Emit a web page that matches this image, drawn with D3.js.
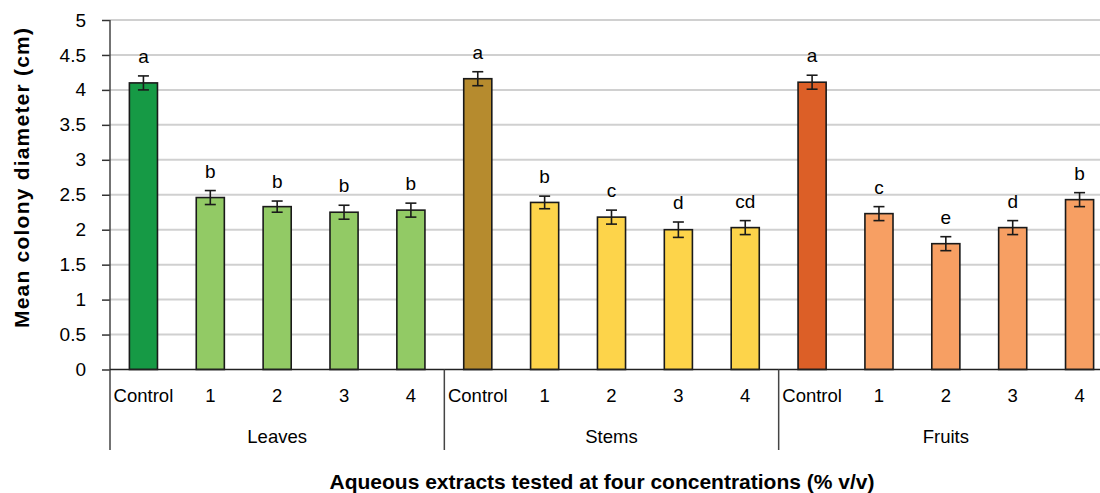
<!DOCTYPE html>
<html>
<head>
<meta charset="utf-8">
<script src="https://cdn.jsdelivr.net/npm/d3@7"></script>
<style>
body { margin: 0; background: #fff; }
text { font-family: "Liberation Sans", Arial, sans-serif; fill: #000; }
</style>
</head>
<body>
<svg id="chart" width="1100" height="493"></svg>
<script>
var groups = ["Leaves", "Stems", "Fruits"];
var levels = ["Control", "1", "2", "3", "4"];
var leaves = [4.10, 2.46, 2.33, 2.25, 2.28];
var stems = [4.16, 2.39, 2.18, 2.00, 2.03];
var fruits = [4.11, 2.23, 1.80, 2.03, 2.43];
var errors = [
    [0.10, 0.10, 0.08, 0.10, 0.10],
    [0.10, 0.09, 0.10, 0.11, 0.10],
    [0.10, 0.10, 0.10, 0.10, 0.10]
];
var letters = [
    ["a", "b", "b", "b", "b"],
    ["a", "b", "c", "d", "cd"],
    ["a", "c", "e", "d", "b"]
];
var yTicks = [0, 0.5, 1, 1.5, 2, 2.5, 3, 3.5, 4, 4.5, 5];
var colors = [
    ["#169a45", "#92ca65"],
    ["#b68b2e", "#fdd44a"],
    ["#dc5f27", "#f79f63"]
];

var series = [leaves, stems, fruits];
var data = [];
groups.forEach(function(g, gi) {
    levels.forEach(function(l, li) {
        data.push({
            key: g + "-" + l, group: g, gi: gi, level: l, li: li,
            value: series[gi][li], err: errors[gi][li], letter: letters[gi][li]
        });
    });
});

var svg = d3.select("#chart");
var mLeft = 110, mTop = 20, mBottom = 369.5, mRight = 1113;

var x = d3.scaleBand()
    .domain(data.map(function(d) { return d.key; }))
    .range([mLeft, mRight])
    .paddingInner(0.58)
    .paddingOuter(0.29);
var y = d3.scaleLinear().domain([0, 5]).range([mBottom, mTop]);

// gridlines
svg.append("g").selectAll("line")
    .data(yTicks.filter(function(t) { return t > 0; }))
    .enter().append("line")
    .attr("x1", mLeft).attr("x2", 1100)
    .attr("y1", function(d) { return y(d); })
    .attr("y2", function(d) { return y(d); })
    .attr("stroke", "#d0d0d0").attr("stroke-width", 2);

// y axis
var yAxis = svg.append("g")
    .attr("transform", "translate(" + mLeft + ",0)")
    .call(d3.axisLeft(y).tickValues(yTicks).tickSize(8).tickPadding(16)
        .tickFormat(function(d) { return d; }));
yAxis.select(".domain").remove();
yAxis.selectAll(".tick line").attr("stroke", "#333").attr("stroke-width", 1.5);
yAxis.selectAll(".tick text").style("font-size", "19px")
    .style("font-family", "Liberation Sans, Arial, sans-serif");
svg.append("line")
    .attr("x1", mLeft).attr("x2", mLeft).attr("y1", mTop).attr("y2", 450)
    .attr("stroke", "#444").attr("stroke-width", 1.5);

// bars
svg.append("g").selectAll("rect")
    .data(data)
    .enter().append("rect")
    .attr("x", function(d) { return x(d.key); })
    .attr("width", x.bandwidth())
    .attr("y", function(d) { return y(d.value); })
    .attr("height", function(d) { return y(0) - y(d.value); })
    .attr("fill", function(d) { return colors[d.gi][d.li === 0 ? 0 : 1]; })
    .attr("stroke", "#1a1a1a").attr("stroke-width", 1.6);

// error bars
var eb = svg.append("g").selectAll("g")
    .data(data)
    .enter().append("g")
    .attr("stroke", "#1a1a1a").attr("stroke-width", 1.6);
eb.append("line")
    .attr("x1", function(d) { return x(d.key) + x.bandwidth() / 2; })
    .attr("x2", function(d) { return x(d.key) + x.bandwidth() / 2; })
    .attr("y1", function(d) { return y(d.value + d.err); })
    .attr("y2", function(d) { return y(d.value - d.err); });
[1, -1].forEach(function(s) {
    eb.append("line")
        .attr("x1", function(d) { return x(d.key) + x.bandwidth() / 2 - 5.5; })
        .attr("x2", function(d) { return x(d.key) + x.bandwidth() / 2 + 5.5; })
        .attr("y1", function(d) { return y(d.value + s * d.err); })
        .attr("y2", function(d) { return y(d.value + s * d.err); });
});

// significance letters
svg.append("g").selectAll("text")
    .data(data)
    .enter().append("text")
    .attr("x", function(d) { return x(d.key) + x.bandwidth() / 2; })
    .attr("y", function(d) { return y(d.value + d.err) - 13; })
    .attr("text-anchor", "middle")
    .style("font-size", "19px")
    .text(function(d) { return d.letter; });

// x axis line
svg.append("line")
    .attr("x1", mLeft).attr("x2", 1100).attr("y1", mBottom).attr("y2", mBottom)
    .attr("stroke", "#222").attr("stroke-width", 1.6);

// category labels
svg.append("g").selectAll("text")
    .data(data)
    .enter().append("text")
    .attr("x", function(d) { return x(d.key) + x.bandwidth() / 2; })
    .attr("y", 402)
    .attr("text-anchor", "middle")
    .style("font-size", "18.5px")
    .text(function(d) { return d.level; });

// group separators and labels
var step = x.step();
groups.forEach(function(g, gi) {
    var x0 = mLeft + gi * 5 * step;
    if (gi > 0) {
        svg.append("line")
            .attr("x1", x0).attr("x2", x0).attr("y1", mBottom).attr("y2", 450)
            .attr("stroke", "#444").attr("stroke-width", 1.5);
    }
    svg.append("text")
        .attr("x", x0 + 2.5 * step)
        .attr("y", 443)
        .attr("text-anchor", "middle")
        .style("font-size", "18.5px")
        .text(g);
});

// axis titles
svg.append("text")
    .attr("transform", "translate(29,178) rotate(-90)")
    .attr("text-anchor", "middle")
    .attr("textLength", 300).attr("lengthAdjust", "spacing")
    .style("font-size", "21px").style("font-weight", "bold")
    .text("Mean colony diameter (cm)");
svg.append("text")
    .attr("x", 602).attr("y", 489)
    .attr("text-anchor", "middle")
    .style("font-size", "21px").style("font-weight", "bold")
    .text("Aqueous extracts tested at four concentrations (% v/v)");
</script>
</body>
</html>
